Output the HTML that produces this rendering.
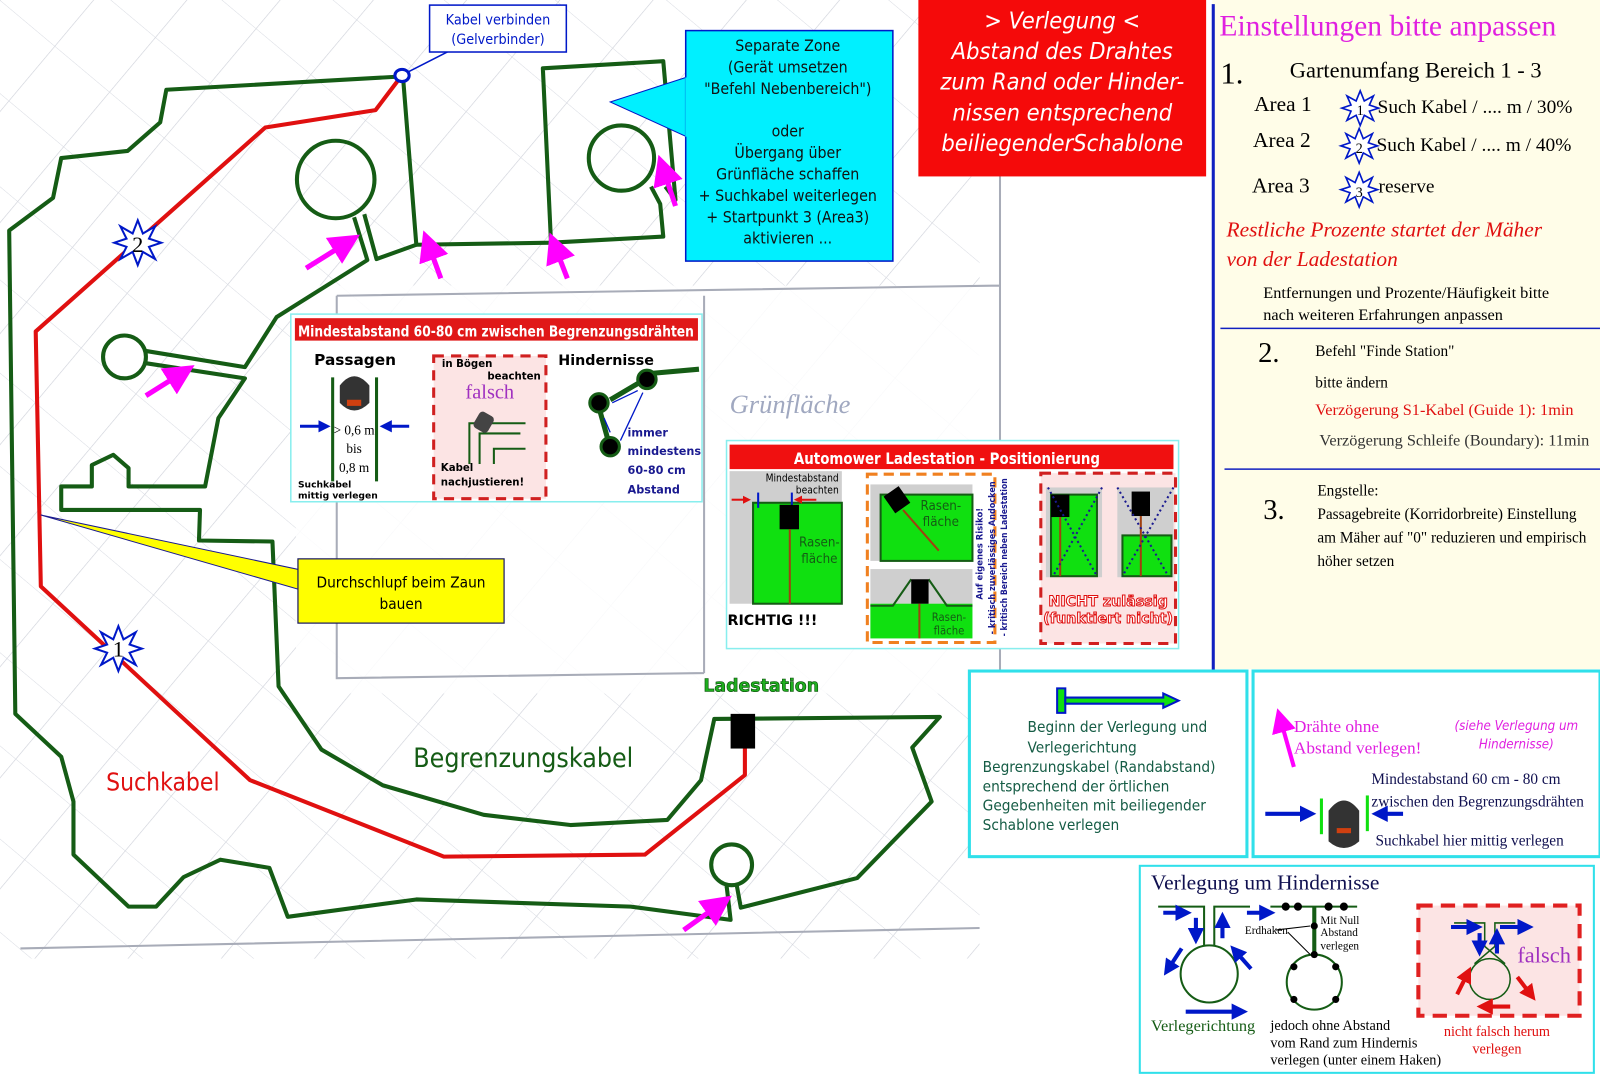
<!DOCTYPE html>
<html><head><meta charset="utf-8"><style>
html,body{margin:0;padding:0;background:#fff;width:1600px;height:1081px;overflow:hidden}
svg{display:block}
.s{font-family:"Liberation Serif",serif}
.d{font-family:"DejaVu Sans Condensed","DejaVu Sans","Liberation Sans",sans-serif}
.b{font-family:"DejaVu Sans","Liberation Sans",sans-serif;font-weight:bold}
</style></head><body>
<svg width="1600" height="1081" viewBox="0 0 1568 1060" preserveAspectRatio="none" xmlns="http://www.w3.org/2000/svg">
<defs>
<marker id="mg" markerWidth="6" markerHeight="6" refX="3" refY="3" orient="auto"><path d="M0,0 L6,3 L0,6 z" fill="#f0f"/></marker>
<marker id="bl" markerWidth="4" markerHeight="4" refX="2" refY="2" orient="auto"><path d="M0,0 L4,2 L0,4 z" fill="#0018c8"/></marker>
<marker id="rd" markerWidth="4" markerHeight="4" refX="2" refY="2" orient="auto"><path d="M0,0 L4,2 L0,4 z" fill="#e01010"/></marker>
<pattern id="hatch" width="70" height="70" patternUnits="userSpaceOnUse" patternTransform="rotate(40)">
<line x1="0" y1="0" x2="0" y2="70" stroke="#b8bcc8" stroke-width="1.2"/>
<line x1="0" y1="0" x2="70" y2="0" stroke="#c8ccd6" stroke-width="1"/>
</pattern>
</defs>
<rect width="1568" height="1060" fill="#fff"/>
<rect x="0" y="0" width="960" height="940" fill="url(#hatch)" opacity="0.7"/>
<rect x="290" y="280" width="690" height="400" fill="#fff" opacity="0.85"/>
<path d="M330,290 L980,280 M330,290 L330,665 L690,660 M690,290 L690,660 M980,30 L980,665 M20,930 L960,910" stroke="#a8acb8" stroke-width="2" fill="none"/>
<text x="715" y="405" class="s" font-size="26" fill="#a0a8c0" font-style="italic">Grünfläche</text>
<!-- right panel -->
<rect x="1188" y="0" width="380" height="656" fill="#fffde8"/>
<line x1="1189" y1="4" x2="1189" y2="658" stroke="#1020c0" stroke-width="3"/>
<line x1="1196" y1="322" x2="1568" y2="322" stroke="#1020c0" stroke-width="1.5"/>
<line x1="1200" y1="460" x2="1568" y2="460" stroke="#1020c0" stroke-width="1.5"/>
<!-- boundary cable -->
<g fill="none" stroke="#155c15" stroke-width="4" stroke-linejoin="round">
<path d="M393,75 L163,88 L157,120 L125,148 L60,155 L52,194 L9,226 L15,700 L60,742 L72,786 L72,838 L126,889 L153,889 L180,860 L216,843 L264,851 L282,899 L408,882 L618,889 L716,902 L712,868"/>
<path d="M722,868 L726,890 L840,861 L913,786 L894,733 L921,703 L700,705 L687,765 L654,804 L559,809 L474,799 L375,770 L315,735 L273,673 L267,531 L195,530 L196,500 L60,500 L60,477 L90,477 L90,456 L111,446 L126,459 L126,477 L201,477 L214,410 L240,371 L142,356"/>
<path d="M142,344 L240,360 L271,311 L360,255 L347,213"/>
<path d="M357,210 L369,254 L408,240 L395,76"/>
<circle cx="122" cy="350" r="21"/>
<circle cx="329" cy="176" r="38"/>
<path d="M408,240 L540,238 L650,232 L647,200 L638,183 M652,183 L662,196 L650,60 L532,67 L540,238"/>
<circle cx="609" cy="155" r="32"/>
<circle cx="717" cy="848" r="20"/>
</g>
<!-- search cable -->
<path d="M393,75 L368,108 L260,125 L35,325 L40,575 L245,765 L435,840 L632,838 L730,760 L730,730" fill="none" stroke="#e01010" stroke-width="4" stroke-linejoin="round"/>
<ellipse cx="394" cy="74" rx="7" ry="6" fill="#fff" stroke="#0018c8" stroke-width="3"/>
<line x1="399" y1="71" x2="450" y2="45" stroke="#0018c8" stroke-width="1.5"/>
<g fill="#fff" stroke="#0018c8" stroke-width="2">
<polygon points="135,216 140,229 152,222 146,234 158,238 146,242 152,254 140,247 135,260 130,247 118,254 124,242 112,238 124,234 118,222 130,229"/>
<polygon points="116,614 121,627 133,620 127,632 139,636 127,640 133,652 121,645 116,658 111,645 99,652 105,640 93,636 105,632 99,620 111,627"/>
</g>
<text x="135" y="247" text-anchor="middle" class="s" font-size="22">2</text>
<text x="116" y="644" text-anchor="middle" class="s" font-size="22">1</text>
<g stroke="#f0f" stroke-width="5" marker-end="url(#mg)" fill="none">
<line x1="300" y1="263" x2="340" y2="238"/>
<line x1="143" y1="388" x2="178" y2="366"/>
<line x1="432" y1="273" x2="420" y2="240"/>
<line x1="556" y1="273" x2="544" y2="242"/>
<line x1="662" y1="202" x2="650" y2="166"/>
<line x1="670" y1="912" x2="705" y2="887"/>
</g>
<rect x="716" y="700" width="24" height="34" fill="#000"/>
<text x="746" y="678" text-anchor="middle" class="b" font-size="17" fill="#1fae1f" stroke="#0a4a0a" stroke-width="0.6">Ladestation</text>
<text x="104" y="775" class="d" font-size="24" fill="#e01010">Suchkabel</text>
<text x="405" y="752" class="d" font-size="26" fill="#155c15">Begrenzungskabel</text>
<rect x="421" y="5" width="134" height="46" fill="#fff" stroke="#0018c8" stroke-width="1.5"/>
<text x="488" y="24" text-anchor="middle" class="d" font-size="14" fill="#0018c8">Kabel verbinden</text>
<text x="488" y="43" text-anchor="middle" class="d" font-size="14" fill="#0018c8">(Gelverbinder)</text>
<polygon points="675,75 598,100 675,135" fill="#00f0ff" stroke="#0018c8" stroke-width="1"/>
<rect x="672" y="30" width="203" height="226" fill="#00f0ff" stroke="#0018c8" stroke-width="1.5"/>
<line x1="673" y1="76" x2="673" y2="134" stroke="#00f0ff" stroke-width="3"/>
<g class="d" font-size="15.5" text-anchor="middle" fill="#111">
<text x="772" y="50">Separate Zone</text>
<text x="772" y="71">(Gerät umsetzen</text>
<text x="772" y="92">"Befehl Nebenbereich")</text>
<text x="772" y="134">oder</text>
<text x="772" y="155">Übergang über</text>
<text x="772" y="176">Grünfläche schaffen</text>
<text x="772" y="197">+ Suchkabel weiterlegen</text>
<text x="772" y="218">+ Startpunkt 3 (Area3)</text>
<text x="772" y="239">aktivieren ...</text>
</g>
<rect x="900" y="0" width="282" height="173" fill="#f50a0a"/>
<g class="d" font-size="23" font-style="italic" fill="#fff" text-anchor="middle">
<text x="1041" y="28">&gt; Verlegung &lt;</text>
<text x="1041" y="58">Abstand des Drahtes</text>
<text x="1041" y="88">zum Rand oder Hinder-</text>
<text x="1041" y="118">nissen entsprechend</text>
<text x="1041" y="148">beiliegenderSchablone</text>
</g>
<text x="1195" y="35" class="s" font-size="29" fill="#e020e0">Einstellungen bitte anpassen</text>
<text x="1196" y="82" class="s" font-size="30">1.</text>
<text x="1264" y="76" class="s" font-size="22">Gartenumfang Bereich 1 - 3</text>
<text x="1229" y="109" class="s" font-size="21">Area 1</text>
<text x="1228" y="144" class="s" font-size="21">Area 2</text>
<text x="1227" y="189" class="s" font-size="21">Area 3</text>
<g fill="#fff" stroke="#0018c8" stroke-width="1.6">
<polygon points="1333,89 1337,99 1346,94 1342,103 1351,106 1342,109 1346,118 1337,113 1333,123 1329,113 1320,118 1324,109 1315,106 1324,103 1320,94 1329,99"/>
<polygon points="1332,126 1336,136 1345,131 1341,140 1350,143 1341,146 1345,155 1336,150 1332,160 1328,150 1319,155 1323,146 1314,143 1323,140 1319,131 1328,136"/>
<polygon points="1332,169 1336,179 1345,174 1341,183 1350,186 1341,189 1345,198 1336,193 1332,203 1328,193 1319,198 1323,189 1314,186 1323,183 1319,174 1328,179"/>
</g>
<text x="1333" y="113" text-anchor="middle" class="s" font-size="14">1</text>
<text x="1332" y="150" text-anchor="middle" class="s" font-size="14">2</text>
<text x="1332" y="193" text-anchor="middle" class="s" font-size="14">3</text>
<text x="1350" y="111" class="s" font-size="19">Such Kabel / .... m / 30%</text>
<text x="1349" y="148" class="s" font-size="19">Such Kabel / .... m / 40%</text>
<text x="1351" y="189" class="s" font-size="19">reserve</text>
<text x="1202" y="232" class="s" font-size="21" font-style="italic" fill="#e01010">Restliche Prozente  startet der Mäher</text>
<text x="1202" y="261" class="s" font-size="21" font-style="italic" fill="#e01010">von der Ladestation</text>
<text x="1238" y="292" class="s" font-size="16">Entfernungen und Prozente/Häufigkeit bitte</text>
<text x="1238" y="314" class="s" font-size="16">nach weiteren Erfahrungen anpassen</text>
<text x="1233" y="355" class="s" font-size="28">2.</text>
<text x="1289" y="349" class="s" font-size="15">Befehl "Finde Station"</text>
<text x="1289" y="380" class="s" font-size="15">bitte ändern</text>
<text x="1289" y="407" class="s" font-size="16" fill="#e01010">Verzögerung S1-Kabel (Guide 1): 1min</text>
<text x="1293" y="437" class="s" font-size="16" fill="#333">Verzögerung Schleife (Boundary): 11min</text>
<text x="1238" y="509" class="s" font-size="28">3.</text>
<text x="1291" y="486" class="s" font-size="15">Engstelle:</text>
<text x="1291" y="509" class="s" font-size="15">Passagebreite (Korridorbreite) Einstellung</text>
<text x="1291" y="532" class="s" font-size="15">am Mäher auf "0" reduzieren und empirisch</text>
<text x="1291" y="555" class="s" font-size="15">höher setzen</text>
<polygon points="40,505 300,560 300,580" fill="#ffff00" stroke="#1a1a90" stroke-width="1"/>
<rect x="292" y="548" width="202" height="63" fill="#ffff00" stroke="#1a1a60" stroke-width="1.2"/>
<text x="393" y="576" text-anchor="middle" class="d" font-size="15">Durchschlupf beim Zaun</text>
<text x="393" y="597" text-anchor="middle" class="d" font-size="15">bauen</text>
<!-- panel A -->
<rect x="285" y="308" width="403" height="184" fill="#fff" stroke="#8ee" stroke-width="1.5"/>
<rect x="289" y="312" width="395" height="22" fill="#e01818"/>
<text x="486" y="330" text-anchor="middle" class="b" font-size="15" fill="#fff" textLength="388" lengthAdjust="spacingAndGlyphs">Mindestabstand 60-80 cm zwischen Begrenzungsdrähten</text>
<text x="348" y="358" text-anchor="middle" class="b" font-size="15">Passagen</text>
<line x1="326" y1="370" x2="326" y2="472" stroke="#155c15" stroke-width="3"/>
<line x1="369" y1="370" x2="369" y2="472" stroke="#155c15" stroke-width="3"/>
<path d="M333,395 L333,378 Q347,360 362,378 L362,395 Q347,410 333,395z" fill="#333"/>
<rect x="340" y="392" width="14" height="6" fill="#d04010"/>
<line x1="294" y1="418" x2="318" y2="418" stroke="#0018c8" stroke-width="3" marker-end="url(#bl)"/>
<line x1="401" y1="418" x2="378" y2="418" stroke="#0018c8" stroke-width="3" marker-end="url(#bl)"/>
<text x="347" y="426" text-anchor="middle" class="s" font-size="13">&gt; 0,6 m</text>
<text x="347" y="444" text-anchor="middle" class="s" font-size="13">bis</text>
<text x="347" y="463" text-anchor="middle" class="s" font-size="13">0,8 m</text>
<text x="292" y="478" class="b" font-size="9">Suchkabel</text>
<text x="292" y="489" class="b" font-size="9">mittig verlegen</text>
<rect x="425" y="349" width="110" height="140" fill="#fce4e4" stroke="#d02020" stroke-width="3" stroke-dasharray="10,7"/>
<text x="433" y="360" class="b" font-size="10">in Bögen</text>
<text x="530" y="372" text-anchor="end" class="b" font-size="10">beachten</text>
<text x="480" y="391" text-anchor="middle" class="s" font-size="20" fill="#a030c0">falsch</text>
<path d="M460,455 L460,415 L515,415 M470,455 L470,425 L510,425 M484,455 L484,440 L515,440" stroke="#155c15" stroke-width="2" fill="none"/>
<rect x="466" y="405" width="16" height="18" rx="4" fill="#444" transform="rotate(30 474 414)"/>
<text x="432" y="462" class="b" font-size="10">Kabel</text>
<text x="432" y="476" class="b" font-size="10">nachjustieren!</text>
<text x="594" y="358" text-anchor="middle" class="b" font-size="14">Hindernisse</text>
<path d="M598,392 L632,372 M586,396 L596,432 M640,366 L685,362" stroke="#155c15" stroke-width="5" fill="none"/>
<g fill="#000" stroke="#155c15" stroke-width="3"><circle cx="587" cy="395" r="9"/><circle cx="634" cy="372" r="9"/><circle cx="598" cy="438" r="9"/></g>
<g stroke="#0018c8" stroke-width="1.3"><line x1="600" y1="395" x2="625" y2="383"/><line x1="592" y1="410" x2="598" y2="424"/><line x1="630" y1="385" x2="608" y2="432"/></g>
<g class="b" font-size="11" fill="#1a1a90"><text x="615" y="428">immer</text><text x="615" y="446">mindestens</text><text x="615" y="465">60-80 cm</text><text x="615" y="484">Abstand</text></g>
<!-- panel B -->
<rect x="712" y="432" width="443" height="204" fill="#fff" stroke="#8ee" stroke-width="1.5"/>
<rect x="715" y="436" width="435" height="24" fill="#f01010"/>
<text x="928" y="455" text-anchor="middle" class="b" font-size="16" fill="#fff" textLength="300" lengthAdjust="spacingAndGlyphs">Automower Ladestation - Positionierung</text>
<rect x="715" y="462" width="110" height="130" fill="#cfcfcf"/>
<rect x="738" y="493" width="87" height="99" fill="#10e010" stroke="#155c15" stroke-width="2"/>
<text x="822" y="472" text-anchor="end" class="d" font-size="10">Mindestabstand</text>
<text x="822" y="484" text-anchor="end" class="d" font-size="10">beachten</text>
<line x1="717" y1="490" x2="732" y2="490" stroke="#e01010" stroke-width="2" marker-end="url(#rd)"/>
<line x1="800" y1="490" x2="782" y2="490" stroke="#e01010" stroke-width="2" marker-end="url(#rd)"/>
<line x1="743" y1="483" x2="743" y2="498" stroke="#0018c8" stroke-width="2"/>
<line x1="776" y1="483" x2="776" y2="498" stroke="#0018c8" stroke-width="2"/>
<rect x="764" y="495" width="19" height="24" fill="#000"/>
<line x1="774" y1="519" x2="774" y2="592" stroke="#a04010" stroke-width="2"/>
<text x="803" y="536" text-anchor="middle" class="d" font-size="13" fill="#155c15">Rasen-</text>
<text x="803" y="552" text-anchor="middle" class="d" font-size="13" fill="#155c15">fläche</text>
<text x="757" y="613" text-anchor="middle" class="b" font-size="14">RICHTIG !!!</text>
<rect x="850" y="465" width="125" height="165" fill="#fff" stroke="#f08020" stroke-width="3" stroke-dasharray="10,6"/>
<rect x="853" y="475" width="100" height="75" fill="#cfcfcf"/>
<rect x="863" y="485" width="90" height="65" fill="#10e010" stroke="#155c15" stroke-width="2"/>
<rect x="870" y="480" width="18" height="20" fill="#000" transform="rotate(-35 879 490)"/>
<line x1="885" y1="500" x2="920" y2="540" stroke="#a04010" stroke-width="2"/>
<text x="922" y="500" text-anchor="middle" class="d" font-size="13" fill="#155c15">Rasen-</text>
<text x="922" y="516" text-anchor="middle" class="d" font-size="13" fill="#155c15">fläche</text>
<rect x="853" y="558" width="100" height="68" fill="#cfcfcf"/>
<rect x="853" y="592" width="100" height="34" fill="#10e010"/>
<path d="M853,594 L875,594 L893,568 M910,568 L928,594 L953,594" stroke="#155c15" stroke-width="2" fill="none"/>
<rect x="893" y="568" width="17" height="24" fill="#000"/>
<line x1="901" y1="592" x2="901" y2="626" stroke="#a04010" stroke-width="2"/>
<text x="930" y="609" text-anchor="middle" class="d" font-size="11" fill="#155c15">Rasen-</text>
<text x="930" y="622" text-anchor="middle" class="d" font-size="11" fill="#155c15">fläche</text>
<g class="b" font-size="9" fill="#1a1a90">
<text transform="translate(963,588) rotate(-90)" textLength="90" lengthAdjust="spacingAndGlyphs">Auf eigenes Risiko!</text>
<text transform="translate(975,622) rotate(-90)" textLength="150" lengthAdjust="spacingAndGlyphs">- kritisch zuverlässiges Andocken</text>
<text transform="translate(987,624) rotate(-90)" textLength="155" lengthAdjust="spacingAndGlyphs">- kritisch Bereich neben Ladestation</text></g>
<rect x="1020" y="464" width="132" height="167" fill="#fce4e4" stroke="#d02020" stroke-width="3" stroke-dasharray="10,7"/>
<rect x="1025" y="478" width="55" height="88" fill="#cfcfcf"/>
<rect x="1030" y="485" width="45" height="80" fill="#10e010" stroke="#155c15" stroke-width="2"/>
<rect x="1030" y="485" width="18" height="22" fill="#000"/>
<line x1="1039" y1="507" x2="1039" y2="565" stroke="#a04010" stroke-width="2"/>
<path d="M1027,478 L1075,565 M1080,478 L1032,565" stroke="#1a1a90" stroke-width="2" stroke-dasharray="2,3"/>
<rect x="1095" y="478" width="55" height="88" fill="#cfcfcf"/>
<rect x="1100" y="525" width="48" height="40" fill="#10e010" stroke="#155c15" stroke-width="2"/>
<rect x="1109" y="482" width="18" height="24" fill="#000"/>
<line x1="1118" y1="506" x2="1118" y2="565" stroke="#a04010" stroke-width="2"/>
<path d="M1095,478 L1145,565 M1150,478 L1100,565" stroke="#1a1a90" stroke-width="2" stroke-dasharray="2,3"/>
<text x="1086" y="594" text-anchor="middle" class="b" font-size="14" fill="#fff" stroke="#e01010" stroke-width="1">NICHT zulässig</text>
<text x="1086" y="611" text-anchor="middle" class="b" font-size="14" fill="#fff" stroke="#e01010" stroke-width="1">(funktiert nicht)</text>
<!-- bottom right boxes -->
<rect x="950" y="658" width="272" height="182" fill="#fff" stroke="#30e0ea" stroke-width="3"/>
<rect x="1036" y="675" width="8" height="24" fill="#10e010" stroke="#0018c8" stroke-width="2"/>
<path d="M1044,684 L1140,684 L1140,680 L1155,687 L1140,694 L1140,690 L1044,690z" fill="#10e010" stroke="#0018c8" stroke-width="2"/>
<g class="d" font-size="15" fill="#155c45">
<text x="1007" y="718">Beginn der Verlegung und</text>
<text x="1007" y="738">Verlegerichtung</text>
<text x="963" y="757">Begrenzungskabel (Randabstand)</text>
<text x="963" y="776">entsprechend der örtlichen</text>
<text x="963" y="795">Gegebenheiten mit beiliegender</text>
<text x="963" y="814">Schablone verlegen</text>
</g>
<rect x="1228" y="658" width="340" height="182" fill="#fff" stroke="#30e0ea" stroke-width="3"/>
<line x1="1268" y1="752" x2="1255" y2="706" stroke="#f0f" stroke-width="4" marker-end="url(#mg)"/>
<text x="1268" y="718" class="s" font-size="17" fill="#e020e0">Drähte ohne</text>
<text x="1268" y="739" class="s" font-size="17" fill="#e020e0">Abstand verlegen!</text>
<text x="1486" y="716" text-anchor="middle" class="d" font-size="13" font-style="italic" fill="#e020e0">(siehe Verlegung um</text>
<text x="1486" y="734" text-anchor="middle" class="d" font-size="13" font-style="italic" fill="#e020e0">Hindernisse)</text>
<text x="1344" y="769" class="s" font-size="15" fill="#101050">Mindestabstand 60 cm - 80 cm</text>
<text x="1344" y="791" class="s" font-size="15" fill="#101050">zwischen den Begrenzungsdrähten</text>
<text x="1348" y="829" class="s" font-size="15" fill="#101050">Suchkabel hier mittig verlegen</text>
<line x1="1240" y1="798" x2="1282" y2="798" stroke="#0018c8" stroke-width="4" marker-end="url(#bl)"/>
<line x1="1375" y1="798" x2="1352" y2="798" stroke="#0018c8" stroke-width="4" marker-end="url(#bl)"/>
<line x1="1295" y1="783" x2="1295" y2="818" stroke="#10e010" stroke-width="3"/>
<line x1="1340" y1="780" x2="1340" y2="815" stroke="#10e010" stroke-width="3"/>
<path d="M1302,810 L1302,795 Q1317,775 1332,795 L1332,825 Q1317,838 1302,825z" fill="#333"/>
<rect x="1310" y="812" width="14" height="5" fill="#d04010"/>
<rect x="1117" y="849" width="445" height="203" fill="#fff" stroke="#30e0ea" stroke-width="2"/>
<text x="1128" y="872" class="s" font-size="21" fill="#101050">Verlegung um Hindernisse</text>
<g fill="none" stroke="#155c15" stroke-width="2">
<path d="M1135,889 L1180,889 L1180,928 M1225,889 L1190,889 L1190,928"/>
<circle cx="1185" cy="955" r="28"/>
<path d="M1245,889 L1330,889"/>
<circle cx="1288" cy="963" r="27"/>
<path d="M1400,920 L1460,920"/>
</g>
<line x1="1288" y1="889" x2="1288" y2="936" stroke="#155c15" stroke-width="4"/>
<g fill="#000"><circle cx="1260" cy="889" r="4"/><circle cx="1272" cy="889" r="4"/><circle cx="1302" cy="889" r="4"/><circle cx="1317" cy="889" r="4"/><circle cx="1288" cy="908" r="3.5"/><circle cx="1288" cy="936" r="3.5"/><circle cx="1268" cy="948" r="3.5"/><circle cx="1309" cy="948" r="3.5"/><circle cx="1268" cy="980" r="3.5"/><circle cx="1309" cy="980" r="3.5"/></g>
<text x="1294" y="906" class="s" font-size="11">Mit Null</text>
<text x="1294" y="918" class="s" font-size="11">Abstand</text>
<text x="1294" y="931" class="s" font-size="11">verlegen</text>
<text x="1220" y="916" class="s" font-size="11">Erdhaken</text>
<path d="M1250,912 L1284,908 M1262,914 L1284,936" stroke="#000" stroke-width="1"/>
<g stroke="#0018c8" stroke-width="4" marker-end="url(#bl)">
<line x1="1140" y1="895" x2="1160" y2="895"/><line x1="1222" y1="895" x2="1242" y2="895"/>
<line x1="1172" y1="900" x2="1172" y2="918"/><line x1="1198" y1="920" x2="1198" y2="902"/>
<line x1="1158" y1="930" x2="1145" y2="950"/><line x1="1226" y1="950" x2="1211" y2="933"/>
<line x1="1162" y1="992" x2="1215" y2="992"/>
</g>
<text x="1128" y="1011" class="s" font-size="16" fill="#155c15">Verlegerichtung</text>
<text x="1245" y="1010" class="s" font-size="14">jedoch ohne Abstand</text>
<text x="1245" y="1027" class="s" font-size="14">vom Rand zum Hindernis</text>
<text x="1245" y="1044" class="s" font-size="14">verlegen (unter einem Haken)</text>
<rect x="1390" y="888" width="158" height="108" fill="#fce4e4" stroke="#e02020" stroke-width="4" stroke-dasharray="14,8"/>
<path d="M1425,905 L1455,905 L1455,928 L1475,945 M1485,905 L1465,905 L1465,928 L1445,945" stroke="#155c15" stroke-width="1.5" fill="none"/>
<circle cx="1460" cy="960" r="20" fill="none" stroke="#155c15" stroke-width="1.5"/>
<g stroke="#0018c8" stroke-width="4" marker-end="url(#bl)">
<line x1="1422" y1="909" x2="1445" y2="909"/><line x1="1470" y1="909" x2="1495" y2="909"/>
<line x1="1450" y1="915" x2="1450" y2="930"/><line x1="1467" y1="935" x2="1467" y2="918"/>
</g>
<g stroke="#e01010" stroke-width="4" marker-end="url(#rd)">
<line x1="1428" y1="975" x2="1438" y2="955"/><line x1="1487" y1="958" x2="1500" y2="975"/><line x1="1480" y1="987" x2="1455" y2="987"/>
</g>
<text x="1487" y="944" class="s" font-size="22" fill="#a030c0">falsch</text>
<text x="1467" y="1016" text-anchor="middle" class="s" font-size="14" fill="#e01010">nicht falsch herum</text>
<text x="1467" y="1033" text-anchor="middle" class="s" font-size="14" fill="#e01010">verlegen</text>
</svg>
</body></html>
